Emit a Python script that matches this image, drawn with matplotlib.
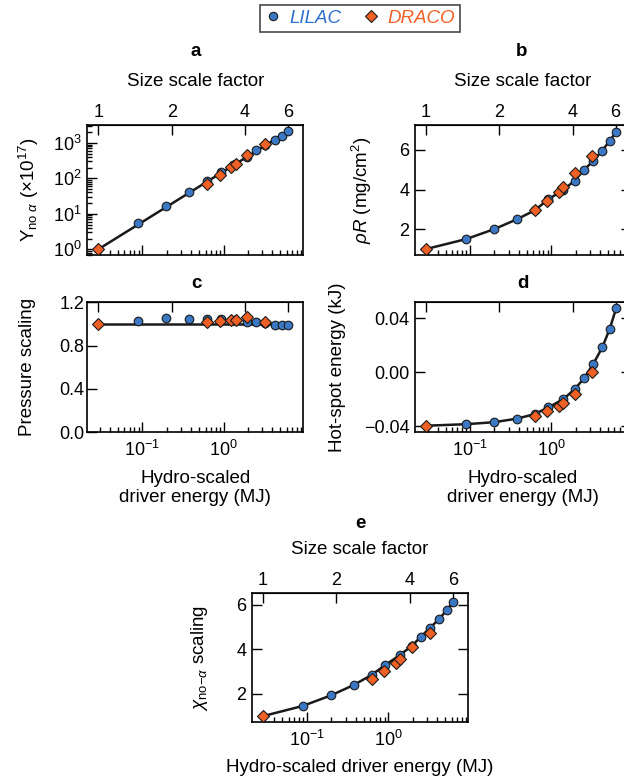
import numpy as np
import matplotlib
matplotlib.use('Agg')
from matplotlib import pyplot as plt
from matplotlib.lines import Line2D
from matplotlib.ticker import NullLocator, LogLocator, NullFormatter

plt.rcParams['font.family'] = ['Liberation Sans', 'DejaVu Sans']
plt.rcParams['mathtext.fontset'] = 'custom'
plt.rcParams['mathtext.rm'] = 'Liberation Sans'
plt.rcParams['mathtext.it'] = 'Liberation Sans:italic'
plt.rcParams['mathtext.bf'] = 'Liberation Sans:bold'

# hydro-scaled driver energy (MJ) of each run
E_lilac = [0.089, 0.197, 0.377, 0.623, 0.923, 1.40, 1.94, 2.53, 3.27, 4.25, 5.23, 6.29]
E_draco = [0.0287, 0.623, 0.897, 1.23, 1.41, 1.95, 3.21]
E0 = 0.0287        # energy at size scale factor 1

# a: yield without alpha heating (x1e17)
Y_lilac = [5.4, 16.9, 40.3, 85, 153, 250, 405, 627, 900, 1200, 1550, 2150]
Y_draco = [1.0, 69, 124, 212, 253, 453, 908]
Y_fit_E = [0.0287, 6.29]
Y_fit = [1.0, 2150]

# b: areal density (mg/cm2)
rhoR_lilac = [1.50, 2.00, 2.50, 2.95, 3.51, 3.98, 4.45, 4.99, 5.44, 5.97, 6.45, 6.92]
rhoR_draco = [1.0, 2.97, 3.42, 3.86, 4.12, 4.85, 5.71]

# c: pressure scaling
P_lilac = [1.03, 1.055, 1.045, 1.05, 1.05, 1.04, 1.02, 1.02, 1.01, 0.99, 0.99, 0.99]
P_draco = [1.0, 1.02, 1.03, 1.04, 1.04, 1.06, 1.02]
P_fit_E = [0.0287, 6.29]
P_fit = [1.0, 1.0]

# d: hot-spot energy (kJ)
HS_lilac = [-0.0385, -0.037, -0.0344, -0.031, -0.026, -0.020, -0.0126, -0.0044,
            0.0059, 0.0185, 0.032, 0.0474]
HS_draco = [-0.0396, -0.0324, -0.0287, -0.0247, -0.0225, -0.0161, 0.0004]

# e: chi no-alpha scaling
Chi_lilac = [1.46, 1.93, 2.40, 2.85, 3.30, 3.75, 4.15, 4.57, 4.97, 5.37, 5.76, 6.12]
Chi_draco = [1.0, 2.66, 3.01, 3.37, 3.58, 4.09, 4.73]

scale_ticks = [1, 2, 4, 6]

blue = '#3b78c4'
orange = '#ef6024'
blue_txt = '#2f6fcf'
FS = 13.5   # label size
TS = 13     # tick label size

W, H = 624, 778
fig = plt.figure(figsize=(W/100, H/100), dpi=100)

def box(x0, y0, x1, y1):
    # pixel box -> figure fraction rect
    return [x0/W, 1 - y1/H, (x1 - x0)/W, (y1 - y0)/H]

def to_s(E):
    return np.cbrt(np.asarray(E, dtype=float)/E0)

def to_E(s):
    return E0*np.asarray(s, dtype=float)**3

def setup(ax, toplabels, bottomlabels, right):
    ax.set_xscale('log')
    ax.set_xlim(0.021, 9.6)
    ax.xaxis.set_major_locator(LogLocator(base=10, numticks=20))
    ax.xaxis.set_minor_locator(LogLocator(base=10, subs=np.arange(2, 10), numticks=20))
    ax.xaxis.set_minor_formatter(NullFormatter())
    ax.tick_params(which='both', direction='in', top=False, right=right,
                   labelbottom=bottomlabels, labelsize=TS, width=1)
    ax.tick_params(which='major', length=7)
    ax.tick_params(which='minor', length=3.5)
    ax.tick_params(axis='y', pad=4)
    ax.tick_params(axis='x', pad=5.5)
    for sp in ax.spines.values():
        sp.set_linewidth(1.2)
    sec = ax.secondary_xaxis('top', functions=(to_s, to_E))
    sec.set_xticks(scale_ticks)
    sec.set_xticklabels([str(t) for t in scale_ticks])
    sec.xaxis.set_minor_locator(NullLocator())
    sec.tick_params(direction='in', length=7, width=1, labelsize=TS, pad=3,
                    labeltop=toplabels)
    return sec

def draw(ax, lil, dra, fitE, fit):
    ax.plot(fitE, fit, color='#1a1a1a', lw=1.8, zorder=2)
    ax.plot(E_lilac, lil, 'o', ms=6.2, mfc=blue, mec='#1a1a1a', mew=0.8, zorder=3)
    ax.plot(E_draco, dra, 'D', ms=6, mfc=orange, mec='#1a1a1a', mew=0.8, zorder=4)

def ylab(ax, text, xright_px, left_px, width_px):
    ax.set_ylabel(text, fontsize=FS)
    ax.yaxis.set_label_coords((xright_px - left_px)/width_px, 0.5)

xlab = 'Hydro-scaled\ndriver energy (MJ)'

# a
ax_a = fig.add_axes(box(87.3, 125, 303.3, 255))
setup(ax_a, True, False, False)
draw(ax_a, Y_lilac, Y_draco, Y_fit_E, Y_fit)
ax_a.set_yscale('log')
ax_a.set_ylim(0.69, 3200)
ax_a.yaxis.set_major_locator(LogLocator(base=10, numticks=20))
ax_a.yaxis.set_minor_locator(LogLocator(base=10, subs=np.arange(2, 10), numticks=20))
ax_a.yaxis.set_minor_formatter(NullFormatter())
ax_a.tick_params(axis='y', which='both', direction='in', right=False)
ylab(ax_a, r'Y$_{\mathrm{no}\ \alpha}$ (×10$^{17}$)', 41, 87.3, 216)

# b
fitE = [E_draco[0]] + E_lilac
ax_b = fig.add_axes(box(415, 125, 631, 255))
setup(ax_b, True, False, True)
draw(ax_b, rhoR_lilac, rhoR_draco, fitE, [rhoR_draco[0]] + rhoR_lilac)
ax_b.set_ylim(0.7, 7.26)
ax_b.set_yticks([2, 4, 6])
ylab(ax_b, r'$\rho R$ (mg/cm$^{2}$)', 374, 415, 216)

# c
ax_c = fig.add_axes(box(87.3, 302.3, 303.3, 432.3))
setup(ax_c, False, True, False)
draw(ax_c, P_lilac, P_draco, P_fit_E, P_fit)
ax_c.set_ylim(0, 1.2)
ax_c.set_yticks([0.0, 0.4, 0.8, 1.2])
ax_c.set_yticklabels(['0.0', '0.4', '0.8', '1.2'])
ax_c.tick_params(axis='y', pad=2)
ylab(ax_c, 'Pressure scaling', 36, 87.3, 216)
ax_c.set_xlabel(xlab, fontsize=FS, labelpad=7)

# d
ax_d = fig.add_axes(box(415, 302.3, 631, 432.3))
setup(ax_d, False, True, True)
draw(ax_d, HS_lilac, HS_draco, fitE, [HS_draco[0]] + HS_lilac)
ax_d.set_ylim(-0.0445, 0.052)
ax_d.set_yticks([-0.04, 0.0, 0.04])
ax_d.set_yticklabels(['\u22120.04', '0.00', '0.04'])
ylab(ax_d, 'Hot-spot energy (kJ)', 346, 415, 216)
ax_d.set_xlabel(xlab, fontsize=FS, labelpad=7)

# e
ax_e = fig.add_axes(box(251.7, 593, 468.3, 722))
setup(ax_e, True, True, True)
draw(ax_e, Chi_lilac, Chi_draco, fitE, [Chi_draco[0]] + Chi_lilac)
ax_e.set_ylim(0.74, 6.52)
ax_e.set_yticks([2, 4, 6])
ylab(ax_e, r'$\chi_{\mathrm{no}\mathrm{-}\alpha}$ scaling', 210, 251.7, 216.6)
ax_e.set_xlabel('Hydro-scaled driver energy (MJ)', fontsize=FS, labelpad=7)

# top axis titles
for x, y in [(195.3, 81.5), (523, 81.5), (360, 549)]:
    fig.text(x/W, 1 - y/H, 'Size scale factor', fontsize=FS,
             ha='center', va='center')

# panel letters
for lab, x, y in [('a', 195.3, 52), ('b', 522, 52), ('c', 196.5, 283),
                  ('d', 523, 283), ('e', 360, 523)]:
    fig.text(x/W, 1 - y/H, lab, fontsize=FS, fontweight='bold',
             ha='center', va='center')

handles = [Line2D([], [], marker='o', ls='none', ms=6, mfc=blue, mec='#1a1a1a', mew=0.8),
           Line2D([], [], marker='D', ls='none', ms=5.8, mfc=orange, mec='#1a1a1a', mew=0.8)]
leg = fig.legend(handles, ['LILAC', 'DRACO'], loc='upper center',
                 bbox_to_anchor=(359.7/W, 1 - 5/H), ncol=2, frameon=True,
                 fancybox=False, edgecolor='#1a1a1a', prop={'style': 'italic', 'size': 13.5},
                 labelcolor=[blue_txt, orange], handletextpad=0.45,
                 columnspacing=1.1, borderpad=0.25, handlelength=0.9,
                 borderaxespad=0)
leg.get_frame().set_linewidth(1.2)

fig.savefig('out.png', dpi=100)
